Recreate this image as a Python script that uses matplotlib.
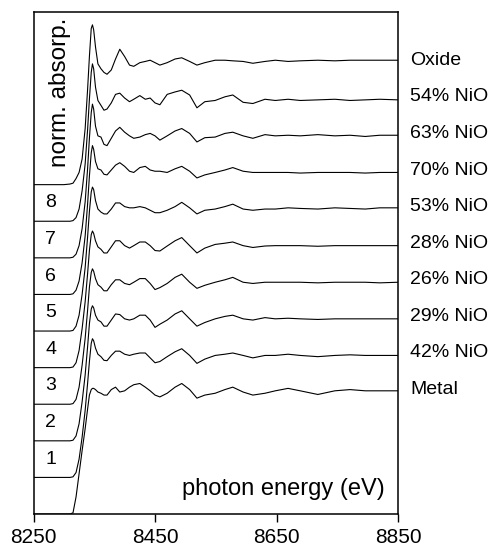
import numpy as np
import matplotlib
matplotlib.use("Agg")
import matplotlib.pyplot as plt

plt.rcParams['font.family'] = ['Liberation Sans', 'DejaVu Sans']

# photon energy grid (eV) shared by all spectra
energy = [8250, 8300, 8310, 8315, 8320, 8325, 8330, 8335, 8339, 8342,
          8345, 8347, 8349, 8352, 8356, 8361, 8366, 8371, 8378, 8385,
          8392, 8400, 8408, 8415, 8425, 8434, 8442, 8450, 8458, 8470,
          8483, 8494, 8507, 8519, 8532, 8549, 8565, 8578, 8595, 8611,
          8631, 8648, 8669, 8689, 8718, 8746, 8771, 8796, 8820, 8850]

# normalized absorption (bottom to top)
metal = [0, 0, 0, 0.01, 0.14, 0.33, 0.52, 0.70, 0.86, 0.975,
         1.02, 1.03, 1.03, 1.02, 1.0, 0.99, 0.975, 0.975, 1.02, 1.04,
         1.0, 1.01, 1.04, 1.06, 1.07, 1.04, 1.01, 0.975, 0.96, 0.99,
         1.04, 1.07, 1.02, 0.95, 0.975, 0.99, 1.02, 1.04, 1.0, 0.975,
         0.99, 1.01, 1.03, 1.01, 0.98, 1.01, 1.02, 1.01, 1.01, 1.01]
nio_42 = [0, 0, 0, 0.005, 0.04, 0.15, 0.33, 0.55, 0.77, 0.95,
          1.10, 1.137, 1.12, 1.06, 1.01, 0.99, 0.96, 0.957, 1.0, 1.035,
          1.035, 1.01, 1.0, 1.01, 1.02, 1.02, 0.98, 0.94, 0.95, 0.99,
          1.03, 1.055, 1.0, 0.935, 0.97, 1.0, 1.01, 1.02, 1.0, 0.98,
          1.0, 1.0, 1.01, 1.0, 0.99, 1.0, 1.005, 1.0, 1.0, 1.0]
nio_29 = [0, 0, 0, 0.005, 0.04, 0.14, 0.32, 0.54, 0.77, 0.96,
          1.08, 1.107, 1.09, 1.03, 0.99, 0.975, 0.94, 0.94, 0.99, 1.04,
          1.035, 1.0, 0.99, 1.0, 1.03, 1.03, 0.99, 0.93, 0.956, 0.99,
          1.04, 1.066, 1.0, 0.94, 0.97, 1.0, 1.02, 1.03, 1.0, 0.99,
          1.01, 1.0, 1.005, 1.0, 0.995, 1.0, 1.0, 1.0, 1.0, 1.0]
nio_26 = [0, 0, 0, 0.005, 0.04, 0.14, 0.32, 0.54, 0.77, 0.96,
          1.08, 1.11, 1.09, 1.03, 0.98, 0.96, 0.93, 0.93, 0.98, 1.02,
          1.02, 0.99, 0.98, 1.0, 1.03, 1.03, 0.99, 0.94, 0.956, 0.99,
          1.04, 1.066, 1.0, 0.95, 0.975, 1.0, 1.02, 1.04, 1.0, 0.99,
          1.0, 1.0, 1.0, 1.0, 0.995, 1.0, 1.0, 1.0, 0.995, 1.0]
nio_28 = [0, 0, 0, 0.005, 0.04, 0.14, 0.32, 0.54, 0.77, 0.96,
          1.09, 1.12, 1.10, 1.04, 0.99, 0.97, 0.94, 0.94, 0.99, 1.04,
          1.04, 1.0, 0.98, 1.0, 1.03, 1.03, 1.0, 0.96, 0.956, 0.997,
          1.04, 1.066, 1.0, 0.94, 0.98, 1.01, 1.02, 1.03, 1.0, 0.985,
          0.997, 1.0, 1.0, 1.0, 0.995, 1.0, 1.0, 1.0, 1.0, 1.0]
nio_53 = [0, 0, 0, 0.005, 0.04, 0.13, 0.30, 0.52, 0.77, 0.98,
          1.14, 1.18, 1.16, 1.07, 1.0, 0.975, 0.96, 0.96, 1.0, 1.05,
          1.05, 1.02, 1.01, 1.01, 1.02, 1.01, 0.99, 0.97, 0.97, 0.99,
          1.02, 1.055, 1.01, 0.96, 0.99, 1.0, 1.02, 1.04, 1.0, 0.99,
          1.0, 1.0, 1.01, 1.005, 1.0, 1.01, 1.005, 1.0, 1.01, 1.01]
nio_70 = [0, 0, 0, 0.005, 0.035, 0.11, 0.26, 0.48, 0.74, 0.97,
          1.16, 1.22, 1.19, 1.09, 1.03, 1.02, 0.985, 0.98, 1.02, 1.06,
          1.08, 1.05, 1.01, 1.0, 1.04, 1.05, 1.02, 1.01, 1.01, 1.0,
          1.03, 1.05, 1.01, 0.955, 0.98, 1.0, 1.02, 1.04, 1.01, 1.0,
          1.0, 1.0, 1.0, 0.995, 1.0, 1.0, 1.0, 0.995, 1.0, 1.0]
nio_63 = [0, 0, 0, 0.005, 0.03, 0.10, 0.24, 0.46, 0.73, 0.98,
          1.19, 1.26, 1.22, 1.08, 1.0, 0.99, 0.93, 0.92, 0.98, 1.04,
          1.07, 1.03, 1.0, 0.98, 0.99, 1.01, 1.02, 1.0, 0.965, 1.0,
          1.04, 1.06, 1.02, 0.95, 0.985, 0.99, 1.02, 1.03, 1.0, 0.98,
          1.01, 1.0, 1.005, 1.0, 1.01, 1.0, 1.005, 0.995, 1.005, 1.005]
nio_54 = [0, 0, 0, 0.005, 0.03, 0.10, 0.25, 0.47, 0.75, 1.0,
          1.22, 1.29, 1.25, 1.10, 0.99, 0.95, 0.91, 0.92, 0.97, 1.04,
          1.05, 1.01, 0.98, 1.0, 1.03, 1.0, 1.01, 0.97, 0.955, 1.04,
          1.06, 1.074, 1.035, 0.93, 0.98, 0.99, 1.02, 1.035, 0.975, 0.965,
          1.0, 0.99, 1.0, 0.99, 0.995, 1.0, 0.99, 0.995, 1.0, 0.995]
oxide = [0, 0, 0.005, 0.012, 0.05, 0.10, 0.21, 0.46, 0.78, 1.05,
         1.28, 1.31, 1.27, 1.13, 0.99, 0.95, 0.92, 0.905, 0.94, 1.03,
         1.11, 1.05, 0.98, 0.97, 1.0, 1.01, 1.02, 1.0, 0.98, 1.0,
         1.03, 1.04, 1.01, 0.98, 1.0, 1.02, 1.02, 1.015, 1.01, 0.995,
         1.01, 1.02, 1.01, 1.015, 1.02, 1.015, 1.02, 1.02, 1.02, 1.02]

spectra = [metal, nio_42, nio_29, nio_26, nio_28, nio_53, nio_70, nio_63, nio_54, oxide]
names = ["Metal", "42% NiO", "29% NiO", "26% NiO", "28% NiO",
         "53% NiO", "70% NiO", "63% NiO", "54% NiO", "Oxide"]
numbers = ["1", "2", "3", "4", "5", "6", "7", "8"]
x_ticks = [8250, 8450, 8650, 8850]
offset = 0.3

fig = plt.figure(figsize=(4.9, 5.52), dpi=100)
ax = fig.add_axes([0.0684, 0.0688, 0.7439, 0.9094])

for i, spec in enumerate(spectra):
    y = np.array(spec) + i * offset
    ax.plot(energy, y, color="black", lw=0.8, zorder=3)
    ax.text(1.033, (i * offset + 1.02), names[i], transform=ax.get_yaxis_transform(),
            fontsize=14, ha="left", va="center")

for k, num in enumerate(numbers):
    ax.text(8278, (k + 1) * offset + offset / 2, num, fontsize=14, ha="center", va="center")

ax.text(0.0727, 0.84, "norm. absorp.", transform=ax.transAxes, rotation=90,
        fontsize=17.5, ha="center", va="center")
ax.text(0.964, 0.05, "photon energy (eV)", transform=ax.transAxes,
        fontsize=17, ha="right", va="center")

ax.set_xlim(8250, 8850)
ax.set_ylim(0, 4.115)
ax.set_xticks(x_ticks)
ax.set_xticklabels([str(t) for t in x_ticks], fontsize=15)
ax.set_yticks([])
ax.tick_params(axis="x", direction="out", length=6, width=1.0, pad=4)
for s in ax.spines.values():
    s.set_linewidth(1.1)

plt.savefig("out.png", dpi=100)
